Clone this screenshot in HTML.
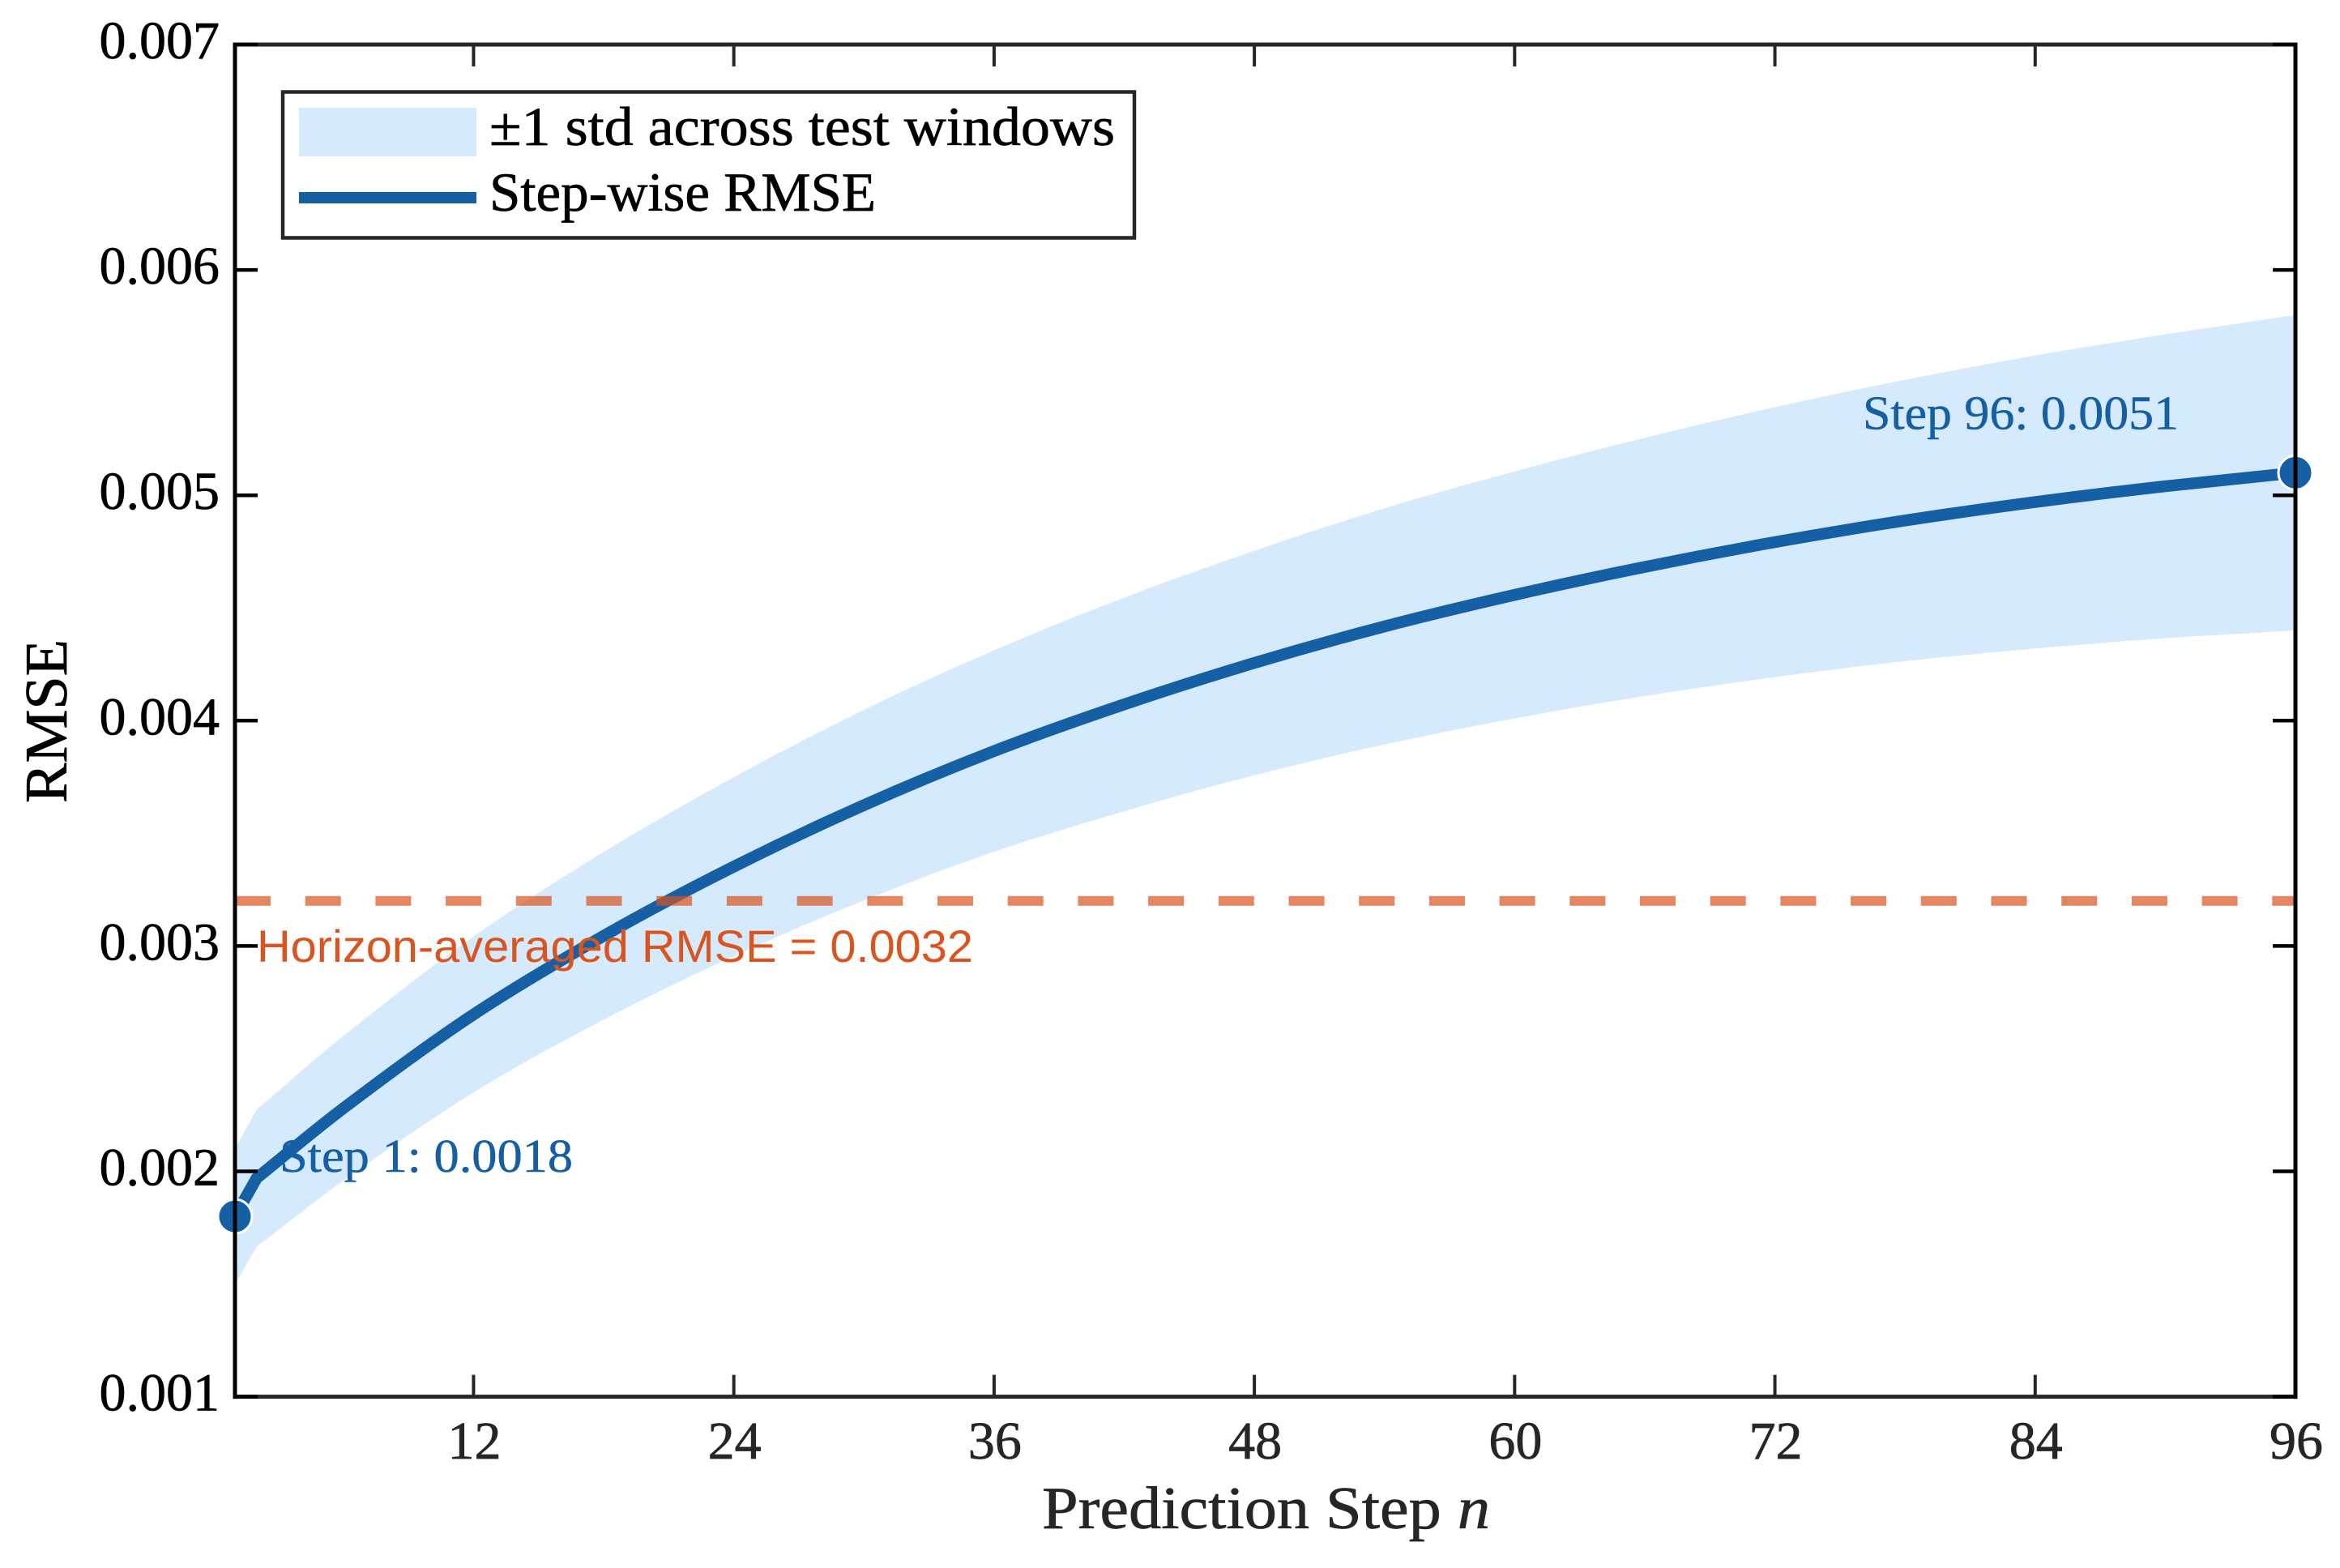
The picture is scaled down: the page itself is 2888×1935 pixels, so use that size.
<!DOCTYPE html>
<html lang="en">
<head>
<meta charset="utf-8">
<title>Step-wise RMSE by prediction step</title>
<style>
html,body{margin:0;padding:0;background:#fff;width:2888px;height:1935px;overflow:hidden}
svg{display:block}
text{font-family:"Liberation Serif","Noto Serif CJK SC",serif}
.sans{font-family:"Liberation Sans","Noto Sans CJK SC",sans-serif}
.k{stroke:#000000;stroke-width:.7}
.d{stroke:#262626;stroke-width:.7}
.b{stroke:#1560A5;stroke-width:.5}
</style>
</head>
<body>
<svg id="chart" xmlns="http://www.w3.org/2000/svg" width="2888" height="1935" viewBox="0 0 2888 1935">
  <rect x="0" y="0" width="2888" height="1935" fill="#ffffff"/>
  <g id="plot"></g>
  <g id="axes"></g>
  <text class="d" x="1286" y="1886" font-size="74" fill="#262626" textLength="553" lengthAdjust="spacingAndGlyphs">Prediction Step <tspan font-style="italic">n</tspan></text>
  <text class="k" transform="translate(82,991) rotate(-90)" x="0" y="0" font-size="74" fill="#000000" textLength="202" lengthAdjust="spacingAndGlyphs">RMSE</text>
  <g>
    <rect x="349" y="113.5" width="1051" height="180" fill="#ffffff" stroke="#262626" stroke-width="4.5"/>
    <rect x="369" y="133" width="219" height="60" fill="#D6EAFD"/>
    <text class="k" x="604" y="179" font-size="68" fill="#000000" textLength="772" lengthAdjust="spacingAndGlyphs">±1 std across test windows</text>
    <rect x="369" y="237" width="219" height="14" fill="#1560A5"/>
    <text class="k" x="604" y="260" font-size="68" fill="#000000" textLength="477" lengthAdjust="spacingAndGlyphs">Step-wise RMSE</text>
  </g>
</svg>
<script>
const steps = [1, 2, 6, 12, 18, 24, 30, 36, 42, 48, 54, 60, 66, 72, 78, 84, 90, 96];
const rmse = [0.00180, 0.00197, 0.00228, 0.002696, 0.003045, 0.003352, 0.003625, 0.003865, 0.004072, 0.004256, 0.004418, 0.004558, 0.004682, 0.004792, 0.004888, 0.00497, 0.00504, 0.0051];
const stdDev = [0.00030, 0.000304, 0.000321, 0.000346, 0.000372, 0.000397, 0.000423, 0.000447, 0.000474, 0.000498, 0.000524, 0.000548, 0.000573, 0.000599, 0.000624, 0.00065, 0.000674, 0.00070];
const horizonAverage = 0.0032;
const xTickValues = [12, 24, 36, 48, 60, 72, 84, 96];
const yTickValues = [0.001, 0.002, 0.003, 0.004, 0.005, 0.006, 0.007];
const yTickLabels = ['0.001', '0.002', '0.003', '0.004', '0.005', '0.006', '0.007'];

const NS = 'http://www.w3.org/2000/svg';
const L = 290, R = 2833, T = 55, B = 1723.6;
const X = n => L + (n - 1) * (R - L) / 95;
const Y = v => B - (v - 0.001) * (B - T) / 0.006;

function make(tag, parent, attrs) {
  const el = document.createElementNS(NS, tag);
  for (const k in attrs) el.setAttribute(k, attrs[k]);
  parent.appendChild(el);
  return el;
}

// First segment is straight (visible kink at step 2); the rest is a smooth curve through the read values.
function segments(ns, vs, reverse) {
  const px = ns.map(X), py = vs.map(Y);
  const slope = i => {
    if (i <= 1) return (py[2] - py[1]) / (px[2] - px[1]);
    if (i === px.length - 1) return (py[i] - py[i - 1]) / (px[i] - px[i - 1]);
    return (py[i + 1] - py[i - 1]) / (px[i + 1] - px[i - 1]);
  };
  let out = '';
  if (!reverse) {
    out += 'L' + px[1].toFixed(2) + ' ' + py[1].toFixed(2);
    for (let i = 1; i < px.length - 1; i++) {
      const dx = (px[i + 1] - px[i]) / 3;
      out += 'C' + (px[i] + dx).toFixed(2) + ' ' + (py[i] + slope(i) * dx).toFixed(2) + ' ' +
        (px[i + 1] - dx).toFixed(2) + ' ' + (py[i + 1] - slope(i + 1) * dx).toFixed(2) + ' ' +
        px[i + 1].toFixed(2) + ' ' + py[i + 1].toFixed(2);
    }
  } else {
    for (let i = px.length - 1; i > 1; i--) {
      const dx = (px[i] - px[i - 1]) / 3;
      out += 'C' + (px[i] - dx).toFixed(2) + ' ' + (py[i] - slope(i) * dx).toFixed(2) + ' ' +
        (px[i - 1] + dx).toFixed(2) + ' ' + (py[i - 1] + slope(i - 1) * dx).toFixed(2) + ' ' +
        px[i - 1].toFixed(2) + ' ' + py[i - 1].toFixed(2);
    }
    out += 'L' + px[0].toFixed(2) + ' ' + py[0].toFixed(2);
  }
  return out;
}

const upper = rmse.map((v, i) => v + stdDev[i]);
const lower = rmse.map((v, i) => v - stdDev[i]);

const plot = document.getElementById('plot');
const axes = document.getElementById('axes');

const band = make('path', plot, {
  d: 'M' + X(steps[0]) + ' ' + Y(upper[0]) + segments(steps, upper, false) +
     'L' + X(steps[steps.length - 1]) + ' ' + Y(lower[lower.length - 1]) + segments(steps, lower, true) + 'Z',
  fill: '#D6EAFD'
});



const line = make('path', plot, {
  d: 'M' + X(steps[0]) + ' ' + Y(rmse[0]) + segments(steps, rmse, false),
  fill: 'none', stroke: '#1560A5', 'stroke-width': 14.5, 'stroke-linejoin': 'round'
});



const avgLine = make('line', plot, {
  x1: L, x2: R, y1: Y(horizonAverage), y2: Y(horizonAverage),
  stroke: '#D9541E', 'stroke-opacity': 0.7, 'stroke-width': 12, 'stroke-dasharray': '44 42.7'
});



const avgLabel = make('text', plot, {
  x: 317, y: Y(horizonAverage) + 75, 'font-size': 56, fill: '#D9541E', class: 'sans',
  textLength: 884, lengthAdjust: 'spacingAndGlyphs'
});
avgLabel.textContent = 'Horizon-averaged RMSE = ' + horizonAverage.toFixed(4);



const startMarker = make('circle', plot, {
  cx: X(steps[0]), cy: Y(rmse[0]), r: 21, fill: '#1560A5', stroke: '#ffffff', 'stroke-width': 3
});



const endMarker = make('circle', plot, {
  cx: X(steps[steps.length - 1]), cy: Y(rmse[rmse.length - 1]), r: 21, fill: '#1560A5', stroke: '#ffffff', 'stroke-width': 3
});



const startLabel = make('text', plot, {
  x: X(steps[0]) + 55, y: Y(rmse[0]) - 55, 'font-size': 58, fill: '#1560A5', class: 'b',
  textLength: 362, lengthAdjust: 'spacingAndGlyphs'
});
startLabel.textContent = 'Step ' + steps[0] + ': ' + rmse[0].toFixed(4);



const endLabel = make('text', plot, {
  x: X(steps[steps.length - 1]) - 534, y: Y(rmse[rmse.length - 1]) - 54, 'font-size': 59, fill: '#1560A5', class: 'b',
  textLength: 390, lengthAdjust: 'spacingAndGlyphs'
});
endLabel.textContent = 'Step ' + steps[steps.length - 1] + ': ' + rmse[rmse.length - 1].toFixed(4);



// Horizontal spines
const topSpine = make('line', axes, { x1: L - 2.5, x2: R + 2.5, y1: T, y2: T, stroke: '#262626', 'stroke-width': 5 });


const bottomSpine = make('line', axes, { x1: L - 2.5, x2: R + 2.5, y1: B, y2: B, stroke: '#262626', 'stroke-width': 5 });



// X ticks and labels
xTickValues.forEach(function (n) {
  const bt = make('line', axes, { x1: X(n), x2: X(n), y1: B, y2: B - 27, stroke: '#262626', 'stroke-width': 4 });
  
  
  const tt = make('line', axes, { x1: X(n), x2: X(n), y1: T, y2: T + 27, stroke: '#262626', 'stroke-width': 4 });
  
  
  const lb = make('text', axes, { x: X(n) + 1, y: 1800, 'font-size': 66, fill: '#262626', 'text-anchor': 'middle', class: 'd' });
  lb.textContent = String(n);
  
  
});

// Y ticks and labels
yTickValues.forEach(function (v, i) {
  const lt = make('line', axes, { x1: L, x2: L + 28, y1: Y(v), y2: Y(v), stroke: '#000000', 'stroke-width': 4.5 });
  
  
  const rt = make('line', axes, { x1: R, x2: R - 28, y1: Y(v), y2: Y(v), stroke: '#000000', 'stroke-width': 4.5 });
  
  
  const lb = make('text', axes, { x: 271, y: Y(v) + 17, 'font-size': 66, fill: '#000000', 'text-anchor': 'end', class: 'k' });
  lb.textContent = yTickLabels[i];
  
  
});

// Vertical spines
const leftSpine = make('line', axes, { x1: L, x2: L, y1: T - 2.5, y2: B + 2.5, stroke: '#000000', 'stroke-width': 5 });


const rightSpine = make('line', axes, { x1: R, x2: R, y1: T - 2.5, y2: B + 2.5, stroke: '#000000', 'stroke-width': 5 });


</script>
</body>
</html>
